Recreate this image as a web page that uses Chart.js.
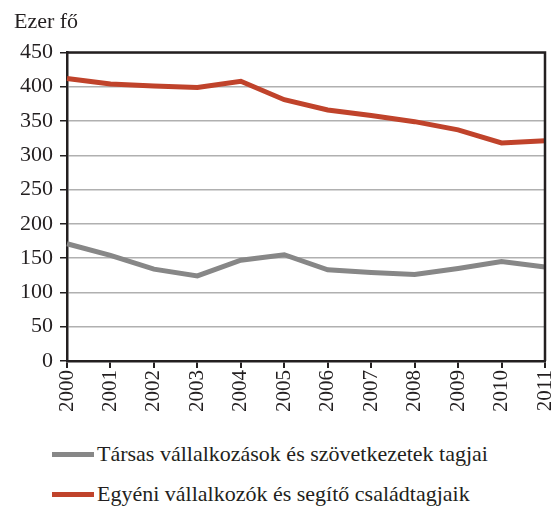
<!DOCTYPE html>
<html>
<head>
<meta charset="utf-8">
<script src="https://cdn.jsdelivr.net/npm/chart.js@4/dist/chart.umd.min.js"></script>
<style>
  html, body { margin: 0; padding: 0; background: #fff; }
  #wrap { position: relative; width: 559px; height: 506px; }
  canvas { position: absolute; left: 0; top: 0; }
  .leg { position: absolute; left: 52px; font-family: "Liberation Serif", "DejaVu Serif", "Times New Roman", serif; font-size: 22px; color: #231f20; white-space: nowrap; display: flex; align-items: center; }
  .leg span.sw { display: inline-block; width: 42px; height: 5px; margin-right: 3px; }
</style>
</head>
<body>
<div id="wrap">
  <canvas id="c" width="559" height="425"></canvas>
  <div class="leg" id="leg1" style="top:441px"><span class="sw" style="background:#878787"></span><span>Társas vállalkozások és szövetkezetek tagjai</span></div>
  <div class="leg" id="leg2" style="top:481px"><span class="sw" style="background:#c0432b"></span><span>Egyéni vállalkozók és segítő családtagjaik</span></div>
</div>
<script>
const years = ['2000','2001','2002','2003','2004','2005','2006','2007','2008','2009','2010','2011'];
const tarsas = [171, 154, 134, 124, 147, 155, 133, 129, 126, 135, 145, 137];
const egyeni = [412, 404, 401, 399, 408, 381, 366, 358, 349, 337, 318, 321];
const seriesNames = ['Társas vállalkozások és szövetkezetek tagjai', 'Egyéni vállalkozók és segítő családtagjaik'];
const yTitle = 'Ezer fő';

const frame = {
  id: 'frame',
  afterDatasetsDraw(chart) {
    const a = chart.chartArea, ctx = chart.ctx;
    ctx.save();
    ctx.strokeStyle = '#231f20';
    ctx.lineWidth = 2.5;
    ctx.beginPath();
    ctx.moveTo(a.left, a.top);
    ctx.lineTo(a.right, a.top);
    ctx.lineTo(a.right, a.bottom);
    ctx.stroke();
    ctx.restore();
  }
};

const fam = '"Liberation Serif", "DejaVu Serif", "Times New Roman", serif';
const font = { family: fam, size: 21 };

new Chart(document.getElementById('c'), {
  type: 'line',
  data: {
    labels: years,
    datasets: [
      { label: seriesNames[0], data: tarsas, borderColor: '#878787', borderWidth: 5, pointRadius: 0, tension: 0 },
      { label: seriesNames[1], data: egyeni, borderColor: '#c0432b', borderWidth: 5, pointRadius: 0, tension: 0 }
    ]
  },
  options: {
    responsive: false,
    animation: false,
    layout: { padding: { left: 14, right: 0, top: 0, bottom: 0 } },
    plugins: {
      legend: { display: false },
      tooltip: { enabled: false },
      title: {
        display: true, text: yTitle, align: 'start', color: '#231f20',
        font: { family: fam, size: 22, weight: 'normal' },
        padding: { top: 9, bottom: 17 }
      }
    },
    scales: {
      x: {
        offset: false,
        afterFit(s) { s.height = 64; s.paddingRight = 14; s.paddingLeft = 0; },
        border: { color: '#231f20', width: 2.5 },
        grid: { drawOnChartArea: false, drawTicks: true, tickLength: 7, tickColor: '#231f20', lineWidth: 2 },
        ticks: { minRotation: 90, maxRotation: 90, color: '#231f20', font: font, padding: 2, autoSkip: false }
      },
      y: {
        min: 0, max: 450,
        afterFit(s) { s.width = 53; },
        border: { color: '#231f20', width: 2.5 },
        grid: { color: '#b0b0b0', lineWidth: 1.5, tickLength: 7, tickColor: '#231f20', drawTicks: true },
        ticks: { stepSize: 50, color: '#231f20', font: { family: fam, size: 22 }, padding: 7 }
      }
    }
  },
  plugins: [frame]
});
</script>
</body>
</html>
